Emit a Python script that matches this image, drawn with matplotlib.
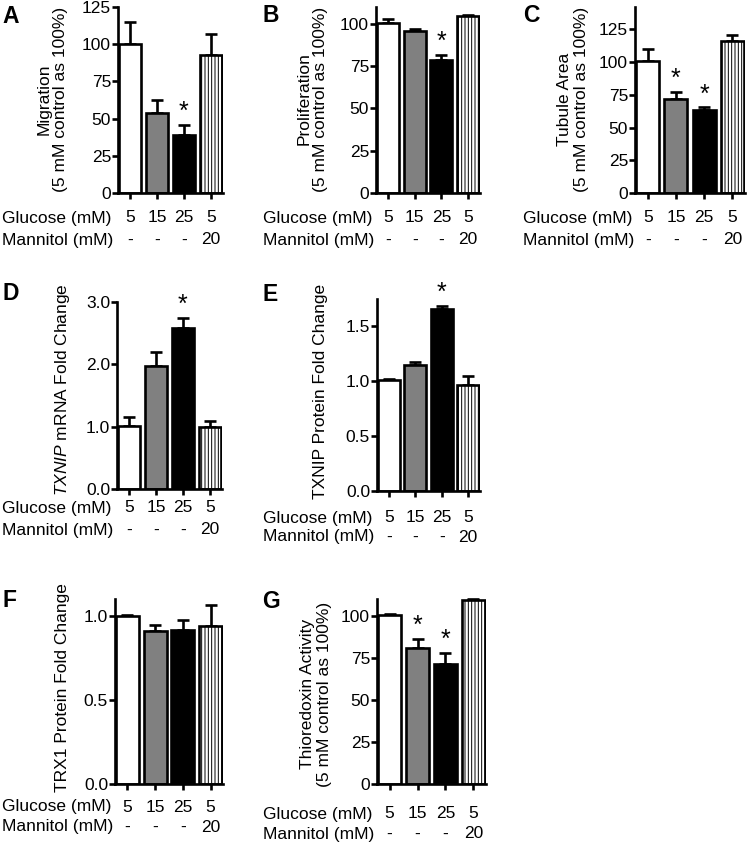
import numpy as np
import matplotlib
matplotlib.use('Agg')
import matplotlib.pyplot as plt
from matplotlib.ticker import FormatStrFormatter

plt.rcParams['font.family'] = ['Liberation Sans', 'DejaVu Sans']
plt.rcParams['mathtext.fontset'] = 'custom'
plt.rcParams['mathtext.rm'] = 'Liberation Sans'
plt.rcParams['mathtext.it'] = 'Liberation Sans:italic'
plt.rcParams['hatch.linewidth'] = 0.7

# data: means and SEM (upper error only)
glucose = ['5', '15', '25', '5']
mannitol = ['-', '-', '-', '20']

migration = [100, 54, 39, 93]
migration_err = [15, 8.6, 6.8, 14]
prolif = [100.5, 95.8, 78.7, 104.6]
prolif_err = [2.5, 1.2, 2.8, 0.8]
tubule = [100.5, 71.4, 63.3, 116.3]
tubule_err = [9.7, 5.6, 2.0, 4.4]
txnip_mrna = [1.01, 1.98, 2.58, 0.99]
txnip_mrna_err = [0.15, 0.22, 0.17, 0.10]
txnip_prot = [1.01, 1.15, 1.655, 0.97]
txnip_prot_err = [0.012, 0.03, 0.035, 0.076]
trx1 = [1.0, 0.907, 0.917, 0.94]
trx1_err = [0.006, 0.039, 0.059, 0.125]
trx_act = [100.4, 81, 71.5, 109.4]
trx_act_err = [0.6, 5.4, 6.5, 0.6]

W, H = 747, 843
fig = plt.figure(figsize=(W/100., H/100.), dpi=100)

def rect(l, t, r, b):
    return [l/W, 1 - b/H, (r-l)/W, (b-t)/H]

fills = ['white', '#808080', 'black', 'white']
hatches = [None, None, None, '|||||']

# letter, box(px), values, errs, ylim, ticks, fmt, ylabel, label x, label y,
# stars, row label x, glucose row y, mannitol row y
panels = [
    ('A', (118, 7, 223, 193), migration, migration_err, 125, np.arange(0, 126, 25), '%d',
     'Migration\n(5 mM control as 100%)', 52, 99, [2], 2, 218, 240),
    ('B', (376, 7, 480, 193), prolif, prolif_err, 110, np.arange(0, 101, 25), '%d',
     'Proliferation\n(5 mM control as 100%)', 312, 99, [2], 263, 218, 240),
    ('C', (635, 7, 745, 193), tubule, tubule_err, 142, np.arange(0, 126, 25), '%d',
     'Tubule Area\n(5 mM control as 100%)', 573, 99, [1, 2], 523, 218, 240),
    ('D', (117, 302, 222, 489), txnip_mrna, txnip_mrna_err, 3.0, np.arange(0, 3.01, 1.0), '%.1f',
     r'$\mathit{TXNIP}$ mRNA Fold Change', 62, 390, [2], 2, 508, 530),
    ('E', (377, 299, 480, 491), txnip_prot, txnip_prot_err, 1.75, np.arange(0, 1.51, 0.5), '%.1f',
     'TXNIP Protein Fold Change', 320, 391, [2], 263, 518, 537),
    ('F', (115, 599, 223, 784), trx1, trx1_err, 1.1, np.arange(0, 1.01, 0.5), '%.1f',
     'TRX1 Protein Fold Change', 63, 688, [], 2, 807, 827),
    ('G', (377, 599, 486, 784), trx_act, trx_act_err, 110, np.arange(0, 101, 25), '%d',
     'Thioredoxin Activity\n(5 mM control as 100%)', 316, 694, [1, 2], 263, 814, 834),
]

fs = 12.5
lw = 1.9
x = np.arange(4)
for (letter, box, vals, errs, ytop, ticks, fmt, ylab, lx, ly,
     stars, rx, gy, my) in panels:
    ax = fig.add_axes(rect(*box))
    ax.errorbar(x, vals, yerr=[np.zeros(4), errs], fmt='none', ecolor='black',
                elinewidth=lw, capsize=4.5, capthick=lw, zorder=1, clip_on=False)
    for i in range(4):
        ax.bar(x[i], vals[i], width=0.82, color=fills[i], edgecolor='black',
               linewidth=lw, hatch=hatches[i], zorder=2)
    ax.set_xlim(-0.45, 3.45)
    ax.set_ylim(0, ytop)
    ax.set_yticks(ticks)
    ax.yaxis.set_major_formatter(FormatStrFormatter(fmt))
    ax.set_xticks(x)
    ax.set_xticklabels([])
    for s in ['top', 'right']:
        ax.spines[s].set_visible(False)
    for s in ['left', 'bottom']:
        ax.spines[s].set_linewidth(lw)
    ax.tick_params(direction='out', length=4, width=lw, labelsize=fs, pad=1)

    for i in stars:
        ax.annotate('*', xy=(x[i], vals[i] + errs[i]), xytext=(0, 1),
                    textcoords='offset pixels', ha='center', va='bottom',
                    fontsize=18, annotation_clip=False)

    bottom = box[3]
    for i in range(4):
        ax.annotate(glucose[i], xy=(x[i], 0), xycoords=('data', 'axes fraction'),
                    xytext=(0, -(gy - bottom)), textcoords='offset pixels',
                    ha='center', va='center', fontsize=fs, annotation_clip=False)
        ax.annotate(mannitol[i], xy=(x[i], 0), xycoords=('data', 'axes fraction'),
                    xytext=(0, -(my - bottom)), textcoords='offset pixels',
                    ha='center', va='center', fontsize=fs, annotation_clip=False)
    fig.text(rx/W, 1 - gy/H, 'Glucose (mM)', ha='left', va='center', fontsize=fs)
    fig.text(rx/W, 1 - my/H, 'Mannitol (mM)', ha='left', va='center', fontsize=fs)

    fig.text(lx/W, 1 - ly/H, ylab, rotation=90, ha='center', va='center',
             fontsize=fs, multialignment='center', linespacing=1.1)

    lb = {'A': (2, 23), 'B': (262, 22), 'C': (523, 22), 'D': (2, 300),
          'E': (262, 301), 'F': (2, 607), 'G': (262, 608)}[letter]
    fig.text(lb[0]/W, 1 - lb[1]/H, letter, ha='left', va='baseline',
             fontsize=16.5, fontweight='bold')

fig.savefig('out.png', dpi=100)
